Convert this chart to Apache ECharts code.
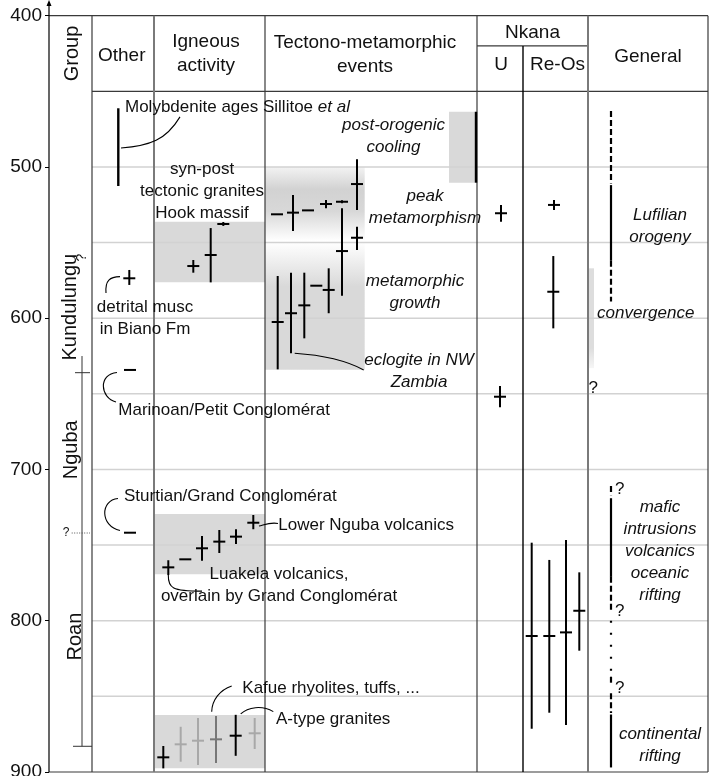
<!DOCTYPE html>
<html>
<head>
<meta charset="utf-8">
<script src="https://cdn.jsdelivr.net/npm/echarts@6/dist/echarts.min.js"></script>
<style>html,body{margin:0;padding:0;background:#fff}#chart{width:709px;height:776px}</style>
</head>
<body>
<div id="chart"></div>
<script>
// ─── Copperbelt age chart (Ma) ───────────────────────────────────────────────
// y = age in Ma (inverted), x = horizontal layout units across the table columns.
const FONT = '"Liberation Sans", Arial, sans-serif';

// column edges: axis | Group | Other | Igneous | Tectono | U | Re-Os | General
const colEdges = [0, 43, 105, 216, 428, 474, 539, 659];
const gridAges = [500, 550, 600, 650, 700, 750, 800, 850];

// age crosses: [x, age, min, max]
const otherAges = [[80.3, 573.6, 568.1, 578], [81, 634.2, 634.2, 634.2], [81, 741.8, 741.8, 741.8]];
const hookAges = [[174.3, 537.7, 536.4, 539], [161.7, 558.2, 540.4, 576.3], [144.3, 565.5, 561.5, 569.9]];
const ngubaAges = [[119.3, 764.7, 760, 769.8], [136.3, 759.4, 759.4, 759.4], [153, 752.1, 744, 760.3],
  [170.3, 747.7, 740, 755.2], [187, 744.4, 739.5, 749.3], [204.3, 735.2, 730.1, 739.5]];
const kafueAges = [[114.3, 890.3, 882.8, 897.6], [131.7, 881.7, 870.1, 893.2], [149, 879.3, 864.3, 895.4],
  [167, 878.4, 863, 894], [186.7, 876, 862.2, 889.3], [205.7, 874.4, 864.3, 884.8]];
const kafueShade = ['#000', '#a8a8a8', '#a8a8a8', '#777', '#000', '#a8a8a8'];
const tectonoAges = [[228, 531.3, 531.3, 531.3], [244, 530.2, 518.5, 542.3], [259, 528.7, 528.7, 528.7],
  [277, 524.5, 521.8, 527.3], [293, 523, 522, 524], [308, 511.3, 494.9, 528.5], [308, 546.8, 539.5, 554.9],
  [293, 555.6, 527.3, 585.1], [279.7, 581.3, 567, 596.7], [267.3, 578.5, 578.5, 578.5],
  [255.3, 591.5, 569.9, 613.3], [242, 596.7, 569.9, 623.2], [228.7, 602.5, 572.1, 633.8]];
const uAges = [[452, 530.6, 525.1, 536.2], [451, 651.9, 644.8, 658.9]];
const reOsAges = [[505, 525.1, 521.8, 528.4], [504.3, 582.5, 558.9, 606.7], [482.7, 810.1, 748.4, 871.4],
  [500.3, 810.1, 759.8, 860.8], [517, 807.7, 746.6, 868.9], [530.3, 793.4, 768, 819.8]];
// age ranges drawn as plain bars: [x, from, to]
const rangeBars = [[69.3, 461.2, 512.6], [427, 463.5, 510.4]];

// shaded age windows: [x0, x1, from, to]
const shadeBoxes = [[105, 216, 536.2, 576.3], [105, 216, 729.4, 769.3], [105, 216, 862.3, 897.5],
  [400, 426, 463.5, 510.4], [216, 315.7, 500, 549], [216, 315.7, 549.5, 634], [539.3, 545, 567, 633]];

// General column trend line: [from, to, kind 0 solid / 1 dashed / 2 dotted]
const generalX = 562;
const generalSegs = [[463, 511, 1], [512, 562, 0], [562, 589, 1], [711, 717, 1], [719, 771, 0],
  [771, 793, 1], [800, 834, 2], [837, 842, 1], [848, 861, 1], [862, 897, 0]];

// table rules: [x0, age0, x1, age1, kind]
const ruleLines = [[0, 400, 659, 400, 0], [43, 450, 659, 450, 0], [428, 420, 539, 420, 0], [0, 900, 659, 900, 0],
  [43, 400, 43, 900, 0], [105, 400, 105, 900, 1], [216, 400, 216, 900, 0], [428, 400, 428, 900, 0],
  [474, 420, 474, 900, 2], [539, 400, 539, 900, 1], [659, 400, 659, 900, 0],
  [33, 625, 33, 883, 3], [26, 636, 41, 636, 3], [24, 883, 43, 883, 3], [22.7, 742, 41, 742, 4]];

// leader curves (cubic): [x0, a0, cx1, ca1, cx2, ca2, x1, a1]
const leaders = [[72, 487.5, 101, 486.1, 117, 482.2, 131, 466.9], [57, 583.3, 56, 574.7, 61, 572.7, 71, 572.5],
  [68, 635.9, 49, 636.9, 51, 652.7, 67, 655.4], [69, 719.2, 51, 720.2, 51, 737.4, 71, 740.3],
  [210, 737.4, 215, 736.7, 221, 734.7, 229, 735.7], [119.3, 769.8, 119, 778.4, 123, 780.4, 153, 780.4],
  [162.7, 860.1, 163, 852.3, 171, 845.7, 182.7, 843.1], [191.7, 861.6, 199, 857, 213, 855.7, 224.3, 860.1],
  [245.7, 623.2, 271, 624.3, 296, 627.6, 314.7, 634.2]];

// annotations: [x, age, text, kind]
const notes = [
  [76, 460.3, 'Molybdenite ages Sillitoe {i|et al}', 'nl'],
  [153, 516.2, 'syn-post\ntectonic granites\nHook massif', 'n'],
  [344.5, 479.7, 'post-orogenic\ncooling', 'i'],
  [376, 526.8, 'peak\nmetamorphism', 'i'],
  [366, 582.7, 'metamorphic\ngrowth', 'i'],
  [370, 634.8, 'eclogite in NW\nZambia', 'i'],
  [611, 538.9, 'Lufilian\norogeny', 'i'],
  [596.7, 596.4, 'convergence', 'i'],
  [539.5, 646.3, '?', 'nl'],
  [611, 753.9, 'mafic\nintrusions\nvolcanics\noceanic\nrifting', 'i'],
  [611, 882.2, 'continental\nrifting', 'i'],
  [566, 713.4, '?', 'nl'], [566, 794, '?', 'nl'], [566, 845, '?', 'nl'],
  [96, 600, 'detrital musc\nin Biano Fm', 'n'],
  [69.3, 660.6, 'Marinoan/Petit Conglomérat', 'nl'],
  [75, 718, 'Sturtian/Grand Conglomérat', 'nl'],
  [229.3, 736.7, 'Lower Nguba volcanics', 'nl'],
  [230, 776.3, 'Luakela volcanics,\noverlain by Grand Conglomérat', 'n'],
  [193.3, 844.7, 'Kafue rhyolites, tuffs, ...', 'nl'],
  [227, 865, 'A-type granites', 'nl'],
  [72.7, 426.6, 'Other', 'h'],
  [157, 425, 'Igneous\nactivity', 'h'],
  [316, 425.5, 'Tectono-metamorphic\nevents', 'h'],
  [483.5, 411.6, 'Nkana', 'h'],
  [452, 432.6, 'U', 'h'],
  [508.5, 432.6, 'Re-Os', 'h'],
  [599, 427, 'General', 'h'],
  [23.5, 425, 'Group', 'g'],
  [21, 592.7, 'Kundulungu', 'g'],
  [22.5, 687, 'Nguba', 'g'],
  [26, 810.5, 'Roan', 'g'],
  [33.5, 560, '?', 'gs'],
  [17, 742, '?', 's']
];

const noteStyle = {
  n: { size: 17, align: 'center' }, nl: { size: 17, align: 'left' },
  i: { size: 17, align: 'center', italic: true }, h: { size: 19, align: 'center', lh: 24 },
  g: { size: 20, align: 'center', rot: true }, gs: { size: 14, align: 'center', rot: true },
  s: { size: 12, align: 'center' }
};
const ruleStyle = [
  { stroke: '#3a3a3a', lineWidth: 1.2 }, { stroke: '#7a7a7a', lineWidth: 2 }, { stroke: '#000', lineWidth: 1.4 },
  { stroke: '#333', lineWidth: 1 }, { stroke: '#555', lineWidth: 1, lineDash: [1, 1.5] }
];

const G = echarts.graphic;
const shadeFill = [
  '#d9d9d9', '#d9d9d9', '#d9d9d9', '#d9d9d9',
  new G.LinearGradient(0, 0, 0, 1, [{ offset: 0, color: '#f3f3f3' }, { offset: 0.3, color: '#d2d2d2' },
    { offset: 0.6, color: '#d8d8d8' }, { offset: 1, color: '#ffffff' }]),
  new G.LinearGradient(0, 0, 0, 1, [{ offset: 0, color: '#ffffff' }, { offset: 0.35, color: '#d9d9d9' },
    { offset: 1, color: '#d9d9d9' }]),
  new G.LinearGradient(0, 0, 0, 1, [{ offset: 0, color: '#dddddd' }, { offset: 0.8, color: '#dddddd' },
    { offset: 1, color: '#f6f6f6' }])
];

const crossRows = [];
const crossColors = [];
[otherAges, hookAges, ngubaAges, tectonoAges, uAges, reOsAges].forEach((arr) => arr.forEach((r) => { crossRows.push(r); crossColors.push('#000'); }));
kafueAges.forEach((r, i) => { crossRows.push(r); crossColors.push(kafueShade[i]); });

const custom = (rows, z, render) => ({
  type: 'custom', coordinateSystem: 'cartesian2d', clip: false, silent: true, animation: false, z,
  data: rows.map((r, i) => [i, 0]), renderItem: (params, api) => render(rows[params.dataIndex], params.dataIndex, api)
});
const seg = (api, x0, a0, x1, a1, style) => {
  const p = api.coord([x0, a0]), q = api.coord([x1, a1]);
  return { type: 'line', shape: { x1: p[0], y1: p[1], x2: q[0], y2: q[1] }, style };
};

const series = [
  custom(shadeBoxes, 1, (r, i, api) => {
    const p = api.coord([r[0], r[2]]), q = api.coord([r[1], r[3]]);
    return { type: 'rect', shape: { x: p[0], y: p[1], width: q[0] - p[0], height: q[1] - p[1] }, style: { fill: shadeFill[i] } };
  }),
  custom(gridAges, 2, (a, i, api) => seg(api, colEdges[1], a, colEdges[7], a, { stroke: '#d2d2d2', lineWidth: 1.5 })),
  custom(ruleLines, 3, (r, i, api) => seg(api, r[0], r[1], r[2], r[3], ruleStyle[r[4]])),
  // age axis line with arrow above 400 Ma
  custom([[0]], 3, (r, i, api) => {
    const b = api.coord([0, 900]), t = api.coord([0, 389.7]);
    return { type: 'group', children: [
      { type: 'line', shape: { x1: b[0], y1: b[1], x2: t[0], y2: t[1] + 2 }, style: { stroke: '#000', lineWidth: 1.2 } },
      { type: 'polygon', shape: { points: [[t[0], t[1]], [t[0] - 2.5, t[1] + 6], [t[0] + 2.5, t[1] + 6]] }, style: { fill: '#000' } }
    ] };
  }),
  custom(rangeBars, 5, (r, i, api) => seg(api, r[0], r[1], r[0], r[2], { stroke: '#000', lineWidth: 2.4 })),
  custom(generalSegs, 5, (r, i, api) => seg(api, generalX, r[0], generalX, r[1],
    { stroke: '#000', lineWidth: 2.2, lineDash: r[2] === 1 ? [6, 3] : r[2] === 2 ? [2, 10] : null })),
  custom(crossRows, 6, (r, i, api) => {
    const c = api.coord([r[0], r[1]]);
    const color = crossColors[i];
    const kids = [{ type: 'line', shape: { x1: c[0] - 6, y1: c[1], x2: c[0] + 6, y2: c[1] }, style: { stroke: color, lineWidth: 2 } }];
    if (r[3] > r[2]) kids.push(seg(api, r[0], r[2], r[0], r[3], { stroke: color, lineWidth: 2 }));
    return { type: 'group', children: kids };
  }),
  custom(leaders, 6, (r, i, api) => {
    const p0 = api.coord([r[0], r[1]]), c1 = api.coord([r[2], r[3]]), c2 = api.coord([r[4], r[5]]), p1 = api.coord([r[6], r[7]]);
    return { type: 'bezierCurve', shape: { x1: p0[0], y1: p0[1], cpx1: c1[0], cpy1: c1[1], cpx2: c2[0], cpy2: c2[1], x2: p1[0], y2: p1[1] },
      style: { stroke: '#000', lineWidth: 1.1, fill: null } };
  }),
  custom(notes, 7, (r, i, api) => {
    const st = noteStyle[r[3]];
    const p = api.coord([r[0], r[1]]);
    return { type: 'text', x: p[0], y: p[1], rotation: st.rot ? Math.PI / 2 : 0,
      style: { text: r[2], fill: '#111', fontSize: st.size, fontFamily: FONT, fontStyle: st.italic ? 'italic' : 'normal',
        align: st.align, verticalAlign: 'middle', lineHeight: st.lh || 22,
        rich: { i: { fontStyle: 'italic', fontSize: st.size, fontFamily: FONT, fill: '#111' } } } };
  })
];

const chart = echarts.init(document.getElementById('chart'), null, { renderer: 'canvas' });
chart.setOption({
  animation: false,
  backgroundColor: '#fff',
  grid: { left: 49, top: 15.7, width: 659, height: 756.3, containLabel: false, outerBoundsMode: 'none' },
  xAxis: { type: 'value', min: 0, max: 659, show: false },
  yAxis: {
    type: 'value', min: 400, max: 900, interval: 100, inverse: true,
    axisLine: { show: false },
    axisTick: { show: true, length: 4, lineStyle: { color: '#000', width: 1 } },
    axisLabel: { fontSize: 19, color: '#111', fontFamily: FONT, margin: 7 },
    splitLine: { show: false }
  },
  series
});
</script>
</body>
</html>
